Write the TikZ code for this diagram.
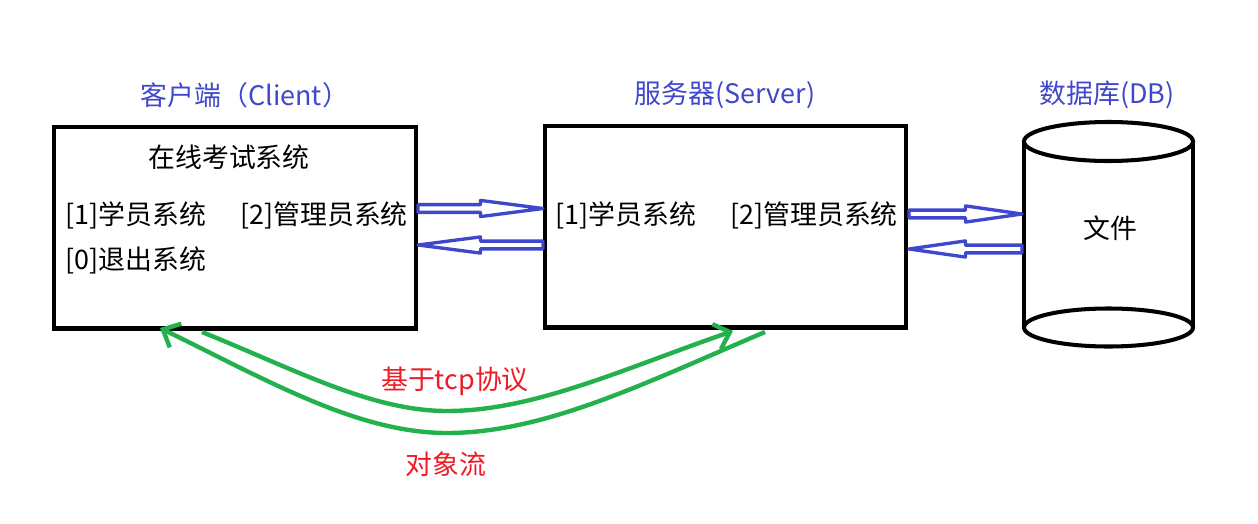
\documentclass[tikz,border=0pt]{standalone}
\usepackage{fontspec}
\setmainfont{Noto Sans CJK SC}
\usetikzlibrary{arrows.meta,calc}

\definecolor{paintblue}{RGB}{63,72,204}
\definecolor{paintgreen}{RGB}{34,177,76}
\definecolor{paintred}{RGB}{237,28,36}

\tikzset{
  txt/.style={inner sep=0pt, font=\fontsize{15.3}{18}\selectfont},
  item/.style={txt, anchor=west},
  title/.style={txt, text=paintblue},
  note/.style={txt, text=paintred},
  box/.style={draw, line width=2.3pt, minimum width=7.24cm, minimum height=4.04cm, inner sep=0pt},
  hollow/.style={draw=paintblue, line width=1.9pt, line join=round,
    to path={let \p1=(\tikztostart), \p2=(\tikztotarget),
      \p3=($(\tikztostart)!0.5!(\tikztotarget)$) in
      (\x1,\y1+2.2pt) -- (\x3,\y1+2.2pt) -- (\x3,\y1+4.6pt) -- (\x2,\y2)
      -- (\x3,\y1-4.6pt) -- (\x3,\y1-2.2pt) -- (\x1,\y1-2.2pt) -- cycle}},
  flow/.style={draw=paintgreen, line width=2.5pt, -{Straight Barb[length=8pt,width=15pt]}},
}

\begin{document}
\begin{tikzpicture}[x=0.02cm,y=0.02cm]
\useasboundingbox (0,0) rectangle (1258,-524);

% client
\node [box] (client) at (235,-227.5) {};
\node [title] (ctitle) at (245,-95) {客户端（Client）};
\node [txt] (exam) at (229,-157) {在线考试系统};
\node [item] (cstu) at (65,-215) {[1]学员系统};
\node [item] (cadm) at (240,-215) {[2]管理员系统};
\node [item] (cexit) at (65,-260) {[0]退出系统};

% server
\node [box] (server) at (725.5,-226.5) {};
\node [title] (stitle) at (725,-95) {服务器(Server)};
\node [item] (sstu) at (555,-215) {[1]学员系统};
\node [item] (sadm) at (730,-215) {[2]管理员系统};

% database
\draw [line width=2.3pt] (1108.5,-141.5) ellipse [x radius=84.5, y radius=19.5];
\draw [line width=2.3pt] (1108.5,-327.5) ellipse [x radius=84.5, y radius=19];
\draw [line width=2.3pt] (1024,-141.5) -- (1024,-327.5) (1193,-141.5) -- (1193,-327.5);
\node [title] (dtitle) at (1107,-95) {数据库(DB)};
\node [txt] (file) at (1110,-228) {文件};

\coordinate (cout) at (418,-208.5);
\coordinate (sin) at (543,-208.5);
\coordinate (sout) at (543,-245);
\coordinate (cin) at (418,-245);
\draw [hollow] (cout) to (sin);
\draw [hollow] (sout) to (cin);

\coordinate (sdout) at (909,-214);
\coordinate (din) at (1022,-214);
\coordinate (dout) at (1022,-249);
\coordinate (sdin) at (909,-249);
\draw [hollow] (sdout) to (din);
\draw [hollow] (dout) to (sdin);

% tcp
\coordinate (startup) at (202,-332);
\coordinate (midup) at (447,-411);
\coordinate (endup) at (733,-331);
\coordinate (startlow) at (765,-332);
\coordinate (midlow) at (447,-433);
\coordinate (endlow) at (160,-328);
\draw [flow] (startup) to[out=-22,in=180,in looseness=0.75] (midup)
  to[out=0,in=199,out looseness=0.75] (endup);
\draw [flow] (startlow) to[out=203,in=0,in looseness=0.75] (midlow)
  to[out=180,in=-26,out looseness=0.75] (endlow);

\node [note] (tcp) at (455,-381) {基于tcp协议};
\node [note] (obj) at (446,-464) {对象流};

\end{tikzpicture}
\end{document}
